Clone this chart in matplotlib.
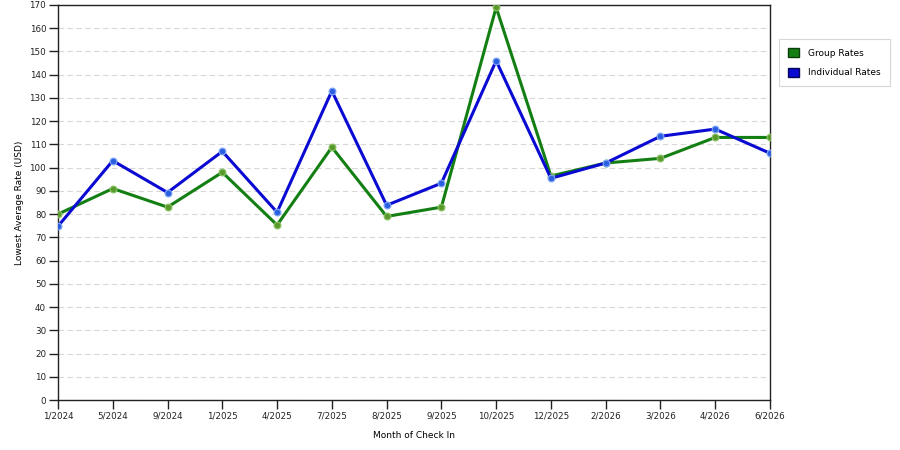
import numpy as np
import matplotlib
matplotlib.use('Agg')
import matplotlib.pyplot as plt
from matplotlib.patches import Patch

plt.rcParams['font.family'] = ['DejaVu Sans']

# 入住月份
months = ['1/2024', '5/2024', '9/2024', '1/2025', '4/2025', '7/2025', '8/2025',
          '9/2025', '10/2025', '12/2025', '2/2026', '3/2026', '4/2026', '6/2026']
group_rates = [80, 91, 83, 98, 75.3, 108.8, 79, 83, 169, 96.4, 102, 104, 113, 113]
individual_rates = [74.8, 103, 89.3, 107, 80.8, 133, 83.8, 93.3, 146, 95.4, 102, 113.5, 116.6, 106.2]

fig = plt.figure(figsize=(9, 4.5), dpi=100)
ax = fig.add_axes([58 / 900, 50 / 450, 712 / 900, 395 / 450])

x = np.arange(len(months))

ax.plot(x, group_rates, color='#137f13', lw=2.2, zorder=3,
        marker='o', ms=4.8, mfc='#5a9a2c', mec='#86c060', mew=0.9)
ax.plot(x, individual_rates, color='#0a0ad2', lw=2.2, zorder=4,
        marker='o', ms=4.8, mfc='#2b5fe0', mec='#7aa3f5', mew=0.9)

ax.set_xlim(0, len(months) - 1)
ax.set_ylim(0, 170)
ax.set_yticks(range(0, 171, 10))
ax.set_xticks(x)
ax.set_xticklabels(months)
ax.tick_params(axis='both', labelsize=6.3, length=6.5, width=1, direction='out', pad=2, colors='#222222')
ax.yaxis.grid(True, linestyle=(0, (5, 3)), color='#d8d8d8', lw=0.8)
ax.set_axisbelow(True)
for s in ax.spines.values():
    s.set_color('#222222')
    s.set_linewidth(1)

ax.set_ylabel('Lowest Average Rate (USD)', fontsize=6.5, labelpad=4)
ax.set_xlabel('Month of Check In', fontsize=6.5, labelpad=7)
for lbl in ax.get_xticklabels() + ax.get_yticklabels():
    lbl.set_clip_on(False)

handles = [Patch(facecolor='#137f13', edgecolor='#0b3d0b', label='Group Rates'),
           Patch(facecolor='#0a0ad2', edgecolor='#05055a', label='Individual Rates')]
leg = fig.legend(handles=handles, loc='upper left', bbox_to_anchor=(779 / 900, 1 - 39 / 450),
                 borderaxespad=0, fontsize=6.5, frameon=True, fancybox=False, edgecolor='#cccccc',
                 handlelength=1.2, handleheight=1.2, handletextpad=1.0,
                 borderpad=1.0, labelspacing=1.1)
leg.get_frame().set_linewidth(0.8)

fig.savefig('out.png', dpi=100)
